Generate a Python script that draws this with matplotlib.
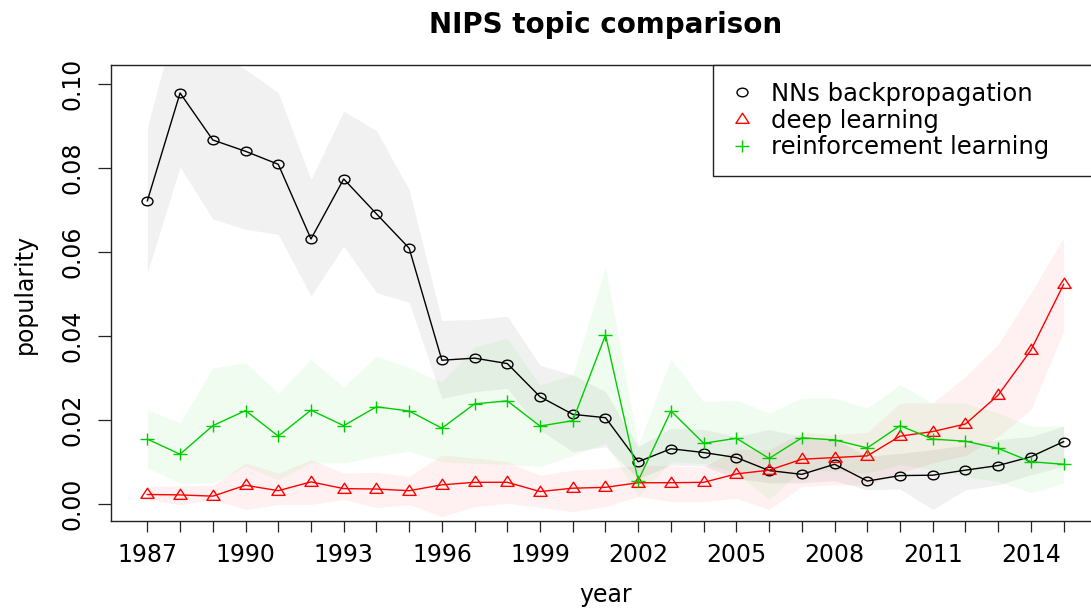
import matplotlib
matplotlib.use("Agg")
import matplotlib.pyplot as plt
from matplotlib.path import Path
from matplotlib.lines import Line2D
from matplotlib.transforms import Affine2D

years = list(range(1987, 2016))

backprop = [0.0722, 0.0979, 0.0867, 0.0840, 0.0809, 0.0631, 0.0774, 0.0691, 0.0609,
            0.0342, 0.0347, 0.0334, 0.0255, 0.0213, 0.0205, 0.0100, 0.0131, 0.0122,
            0.0110, 0.0079, 0.0070, 0.0094, 0.0054, 0.0067, 0.0068, 0.0080, 0.0091,
            0.0112, 0.0148]
deep = [0.0022, 0.0021, 0.0018, 0.0044, 0.0031, 0.0052, 0.0036, 0.0035, 0.0031,
        0.0045, 0.0051, 0.0051, 0.0029, 0.0037, 0.0039, 0.0050, 0.0050, 0.0051,
        0.0071, 0.0080, 0.0106, 0.0110, 0.0114, 0.0161, 0.0172, 0.0190, 0.0259,
        0.0366, 0.0523]
reinf = [0.0154, 0.0118, 0.0186, 0.0222, 0.0161, 0.0223, 0.0186, 0.0231, 0.0221,
         0.0180, 0.0238, 0.0245, 0.0185, 0.0198, 0.0402, 0.0055, 0.0221, 0.0144,
         0.0156, 0.0108, 0.0157, 0.0152, 0.0133, 0.0186, 0.0154, 0.0149, 0.0132,
         0.0100, 0.0094]

backprop_lo = [0.0551, 0.0802, 0.0679, 0.0654, 0.0642, 0.0495, 0.0614, 0.0503, 0.0480,
               0.0251, 0.0267, 0.0275, 0.0176, 0.0124, 0.0136, 0.0060, 0.0092, 0.0090,
               0.0060, 0.0050, 0.0050, 0.0055, 0.0033, 0.0035, -0.0014, 0.0033, 0.0045,
               0.0069, 0.0089]
backprop_hi = [0.0897, 0.1190, 0.1080, 0.1035, 0.0980, 0.0773, 0.0936, 0.0889, 0.0749,
               0.0437, 0.0439, 0.0447, 0.0330, 0.0307, 0.0267, 0.0136, 0.0180, 0.0177,
               0.0160, 0.0177, 0.0160, 0.0155, 0.0113, 0.0120, 0.0129, 0.0140, 0.0153,
               0.0160, 0.0185]
deep_lo = [0.0010, -0.0002, 0.0010, -0.0014, -0.0002, -0.0002, 0.0010, -0.0010, -0.0002,
           -0.0031, -0.0007, 0.0001, -0.0009, -0.0019, -0.0007, 0.0017, 0.0005, 0.0005,
           0.0013, -0.0014, 0.0041, 0.0045, 0.0045, 0.0073, 0.0097, 0.0115, 0.0160,
           0.0224, 0.0411]
deep_hi = [0.0041, 0.0043, 0.0044, 0.0097, 0.0073, 0.0105, 0.0073, 0.0075, 0.0065,
           0.0116, 0.0109, 0.0100, 0.0068, 0.0080, 0.0084, 0.0092, 0.0090, 0.0088,
           0.0130, 0.0129, 0.0170, 0.0165, 0.0170, 0.0240, 0.0240, 0.0304, 0.0380,
           0.0503, 0.0635]
reinf_lo = [0.0085, 0.0049, 0.0049, 0.0089, 0.0057, 0.0097, 0.0097, 0.0113, 0.0125,
            0.0100, 0.0096, 0.0094, 0.0088, 0.0115, 0.0145, 0.0017, 0.0100, 0.0096,
            0.0073, 0.0010, 0.0081, 0.0078, 0.0073, 0.0093, 0.0081, 0.0065, 0.0053,
            0.0026, 0.0049]
reinf_hi = [0.0224, 0.0193, 0.0324, 0.0336, 0.0264, 0.0344, 0.0278, 0.0352, 0.0324,
            0.0290, 0.0374, 0.0394, 0.0283, 0.0307, 0.0566, 0.0140, 0.0346, 0.0243,
            0.0247, 0.0216, 0.0252, 0.0252, 0.0228, 0.0284, 0.0240, 0.0240, 0.0216,
            0.0185, 0.0185]

labels = ["NNs backpropagation", "deep learning", "reinforcement learning"]
colors = ["#000000", "#FF0000", "#00CD00"]
xtick_years = list(range(1987, 2016, 3))
ytick_vals = [0.00, 0.02, 0.04, 0.06, 0.08, 0.10]

# horizontally stretched markers (the reference is stretched)
sx = 1.27
circle_m = Path.unit_circle().transformed(Affine2D().scale(sx, 1.0))
tri_m = Path([(0, 0.62), (-0.65, -0.38), (0.65, -0.38), (0, 0.62)],
             [Path.MOVETO, Path.LINETO, Path.LINETO, Path.CLOSEPOLY])
plus_m = Path([(-0.6, 0), (0.6, 0), (0, -0.5), (0, 0.5)],
              [Path.MOVETO, Path.LINETO, Path.MOVETO, Path.LINETO])

plt.rcParams['font.family'] = ['DejaVu Sans']
fig = plt.figure(figsize=(10.91, 6.12), dpi=100)
ax = fig.add_axes([110.7 / 1091, (612 - 520.7) / 612, (1100.3 - 110.7) / 1091, (520.7 - 65.3) / 612])

series = [(backprop, backprop_lo, backprop_hi, circle_m, 7.9),
          (deep, deep_lo, deep_hi, tri_m, 9.5),
          (reinf, reinf_lo, reinf_hi, plus_m, 10.0)]

for (vals, lo, hi, m, ms), c in zip(series, colors):
    ax.fill_between(years, lo, hi, color=c, alpha=0.055, lw=0, zorder=1)

handles = []
for (vals, lo, hi, m, ms), c, lab in zip(series, colors, labels):
    ax.plot(years, vals, color=c, lw=1.0, marker=m, ms=ms, mfc='none', mec=c, mew=1.0, zorder=3)
    handles.append(Line2D([], [], ls='none', marker=m, ms=ms, mfc='none', mec=c, mew=1.0, label=lab))

ax.set_xlim(1985.88, 2016.12)
ax.set_ylim(-0.00405, 0.1045)

ax.set_xticks(years, minor=False)
ax.set_xticklabels([str(y) if y in xtick_years else "" for y in years])
ax.set_yticks(ytick_vals)
ax.set_yticklabels(["%.2f" % v for v in ytick_vals])
ax.tick_params(axis='x', length=8, width=0.9, labelsize=17, pad=8.0, color='#222222')
ax.tick_params(axis='y', length=9.4, width=0.9, labelsize=17, pad=9.5, color='#222222')
for t in ax.get_yticklabels():
    t.set_rotation(90)
    t.set_va('center')

for s in ax.spines.values():
    s.set_linewidth(1.0)
    s.set_color('#222222')

ax.set_xlabel("year", fontsize=17)
ax.xaxis.set_label_coords(0.5, -(602 - 520.7) / (520.7 - 65.3))
ax.xaxis.label.set_va('baseline')
ax.set_ylabel("popularity", fontsize=17)
ax.yaxis.set_label_coords(-(110.7 - 25) / (1100.3 - 110.7), (520.7 - 294) / (520.7 - 65.3))
ax.yaxis.label.set_va('center')

fig.text(605.5 / 1091, (612 - 33) / 612, "NIPS topic comparison", ha='center', va='baseline',
         fontsize=20, fontweight='bold')

x0 = (713 - 110.7) / (1100.3 - 110.7)
leg = ax.legend(handles=handles, loc='upper left', bbox_to_anchor=(x0, 1.0, 1 - x0, 0.0),
                mode='expand', borderaxespad=0, fontsize=17.5, frameon=True, fancybox=False,
                edgecolor='#222222', framealpha=1, borderpad=0.67, labelspacing=0.12,
                handlelength=1.05, handletextpad=0.67)
leg.get_frame().set_linewidth(1.0)

fig.savefig("out.png", dpi=100)
